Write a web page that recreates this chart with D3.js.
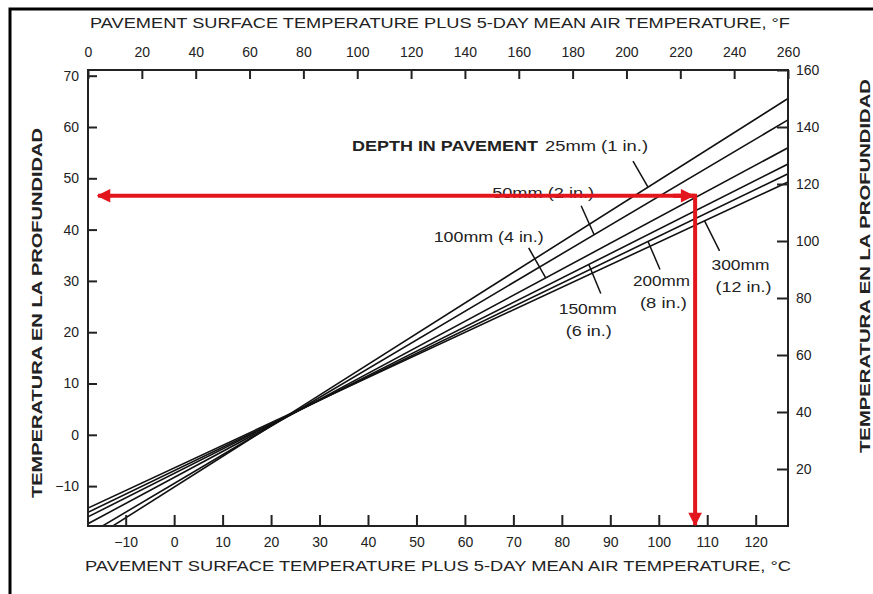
<!DOCTYPE html>
<html>
<head>
<meta charset="utf-8">
<script src="https://cdn.jsdelivr.net/npm/d3@7"></script>
<style>
  body { margin: 0; background: #fff; }
  svg { display: block; }
  text { font-family: "Liberation Sans Narrow", "Liberation Sans", Arial, sans-serif; fill: #222; }
  .tick line { stroke: #222; stroke-width: 2; }
</style>
</head>
<body>
<div id="chart"></div>
<script>
// chart data (temperatures in degrees F)
const depths = ["25mm (1 in.)", "50mm (2 in.)", "100mm (4 in.)", "150mm (6 in.)", "200mm (8 in.)", "300mm (12 in.)"];
const tempAtZeroF = [-5.5, -3, 0.8, 3.2, 4.8, 6.3];        // depth temp at x = 0 F
const tempAt260F = [150, 142.5, 132.7, 127, 123.6, 120.7]; // depth temp at x = 260 F
const pointerAtF = [208, 188, 170, 186, 208, 229];         // where each label's pointer touches its line

const topTicksF = d3.range(0, 261, 20);
const bottomTicksC = d3.range(-10, 121, 10);
const leftTicksC = d3.range(-10, 71, 10);
const rightTicksF = d3.range(20, 161, 20);

// worked example drawn in red (degrees C)
const exampleSurfaceC = 107.5;
const exampleDepthC = 46.6;

const titleF = "PAVEMENT SURFACE TEMPERATURE PLUS 5-DAY MEAN AIR TEMPERATURE, \u00B0F";
const titleC = "PAVEMENT SURFACE TEMPERATURE PLUS 5-DAY MEAN AIR TEMPERATURE, \u00B0C";
const titleY = "TEMPERATURA EN LA PROFUNDIDAD";

// frame of the plot
const margin = { left: 88, right: 85, top: 70, bottom: 68 };
const W = 873, H = 594;

const svg = d3.select("#chart").append("svg")
  .attr("width", W)
  .attr("height", H);

const toC = f => (f - 32) / 1.8;

// F scales, and C scales over the same pixels
const xF = d3.scaleLinear().domain([0, 260]).range([margin.left, W - margin.right]);
const yF = d3.scaleLinear().domain([0, 160]).range([H - margin.bottom, margin.top]);
const xC = d3.scaleLinear().domain([toC(0), toC(260)]).range(xF.range());
const yC = d3.scaleLinear().domain([toC(0), toC(160)]).range(yF.range());

// outer border of the scanned figure
svg.append("path")
  .attr("d", "M10," + H + "V9H" + W)
  .attr("fill", "none")
  .attr("stroke", "#000")
  .attr("stroke-width", 3);

// clip for the depth lines
svg.append("clipPath").attr("id", "plot-clip")
  .append("rect")
  .attr("x", xF(0)).attr("y", yF(160))
  .attr("width", xF(260) - xF(0))
  .attr("height", yF(0) - yF(160));

// depth lines
const lineGen = d3.line().x(d => xF(d[0])).y(d => yF(d[1]));
const lines = depths.map((name, i) => [[0, tempAtZeroF[i]], [260, tempAt260F[i]]]);
svg.append("g")
  .attr("clip-path", "url(#plot-clip)")
  .selectAll("path")
  .data(lines)
  .enter()
  .append("path")
    .attr("d", lineGen)
    .attr("fill", "none")
    .attr("stroke", "#111")
    .attr("stroke-width", 1.6);

// frame
svg.append("rect")
  .attr("x", xF(0)).attr("y", yF(160))
  .attr("width", xF(260) - xF(0))
  .attr("height", yF(0) - yF(160))
  .attr("fill", "none")
  .attr("stroke", "#222")
  .attr("stroke-width", 2);

// axes, ticks drawn inward
const topAxis = svg.append("g")
  .attr("transform", "translate(0," + yF(160) + ")")
  .call(d3.axisTop(xF).tickValues(topTicksF).tickSize(-9).tickPadding(13));
const bottomAxis = svg.append("g")
  .attr("transform", "translate(0," + yF(0) + ")")
  .call(d3.axisBottom(xC).tickValues(bottomTicksC).tickSize(-11).tickPadding(11));
const leftAxis = svg.append("g")
  .attr("transform", "translate(" + xF(0) + ",0)")
  .call(d3.axisLeft(yC).tickValues(leftTicksC).tickSize(-9).tickPadding(9));
const rightAxis = svg.append("g")
  .attr("transform", "translate(" + xF(260) + ",0)")
  .call(d3.axisRight(yF).tickValues(rightTicksF).tickSize(-11).tickPadding(8));

[topAxis, bottomAxis, leftAxis, rightAxis].forEach(function(a) {
  a.select(".domain").remove();
  a.selectAll("text")
    .attr("font-size", "14px")
    .attr("fill", "#222")
    .style("font-family", "'Liberation Sans Narrow', 'Liberation Sans', Arial, sans-serif");
});

// axis titles
svg.append("text")
  .attr("x", (xF(0) + xF(260)) / 2 + 2)
  .attr("y", 28)
  .attr("text-anchor", "middle")
  .attr("font-size", "15px")
  .attr("textLength", 700)
  .attr("lengthAdjust", "spacingAndGlyphs")
  .text(titleF);

svg.append("text")
  .attr("x", (xF(0) + xF(260)) / 2)
  .attr("y", 571)
  .attr("text-anchor", "middle")
  .attr("font-size", "15px")
  .attr("textLength", 706)
  .attr("lengthAdjust", "spacingAndGlyphs")
  .text(titleC);

svg.append("text")
  .attr("transform", "translate(42,313) rotate(-90)")
  .attr("text-anchor", "middle")
  .attr("font-size", "15px")
  .attr("font-weight", "bold")
  .attr("textLength", 370)
  .attr("lengthAdjust", "spacingAndGlyphs")
  .style("font-family", "'Liberation Sans', Arial, sans-serif")
  .text(titleY);

svg.append("text")
  .attr("transform", "translate(870,266) rotate(-90)")
  .attr("text-anchor", "middle")
  .attr("font-size", "15px")
  .attr("font-weight", "bold")
  .attr("textLength", 374)
  .attr("lengthAdjust", "spacingAndGlyphs")
  .style("font-family", "'Liberation Sans', Arial, sans-serif")
  .text(titleY);

// labels with pointers; offsets in pixels from the touch point
const pointerOffsets = [[-15, -26], [-13, -29], [-17, -30], [12, 29], [12, 28], [15, 30]];
// each row: [text, x offset, width, bold]
const labelSpecs = [
  { dx: -296, dy: -36, rows: [[["DEPTH IN PAVEMENT", 0, 186, true], ["25mm (1 in.)", 193, 103, false]]] },
  { dx: -102, dy: -37, rows: [[["50mm (2 in.)", 0, 102, false]]] },
  { dx: -112, dy: -36, rows: [[["100mm (4 in.)", 0, 110, false]]] },
  { dx: -30, dy: 50, rows: [[["150mm", 0, 58, false]], [["(6 in.)", 7, 46, false]]] },
  { dx: -15, dy: 45, rows: [[["200mm", 0, 57, false]], [["(8 in.)", 7, 47, false]]] },
  { dx: 7, dy: 49, rows: [[["300mm", 0, 58, false]], [["(12 in.)", 4, 56, false]]] }
];

depths.forEach(function(name, i) {
  const f = pointerAtF[i];
  const t = tempAtZeroF[i] + (tempAt260F[i] - tempAtZeroF[i]) * f / 260;
  const px = xF(f), py = yF(t);
  const off = pointerOffsets[i];

  svg.append("line")
    .attr("x1", px).attr("y1", py)
    .attr("x2", px + off[0]).attr("y2", py + off[1])
    .attr("stroke", "#111")
    .attr("stroke-width", 1.5);

  const spec = labelSpecs[i];
  spec.rows.forEach(function(row, r) {
    row.forEach(function(seg) {
      svg.append("text")
        .attr("x", px + spec.dx + seg[1])
        .attr("y", py + spec.dy + r * 22)
        .attr("font-size", "14px")
        .attr("font-weight", seg[3] ? "bold" : "normal")
        .attr("textLength", seg[2])
        .attr("lengthAdjust", "spacingAndGlyphs")
        .attr("fill", "#222")
        .text(seg[0]);
    });
  });
});

// red worked example with arrows
const red = "#e3161e";
const defs = svg.append("defs");
defs.append("marker")
  .attr("id", "arrow")
  .attr("viewBox", "0 0 10 10")
  .attr("refX", 9).attr("refY", 5)
  .attr("markerWidth", 4).attr("markerHeight", 3.4)
  .attr("markerUnits", "strokeWidth")
  .attr("orient", "auto")
  .append("path")
    .attr("d", "M0,0L10,5L0,10z")
    .attr("fill", red);

const cx = xC(exampleSurfaceC), cy = yC(exampleDepthC);

svg.append("line")
  .attr("x1", cx).attr("y1", cy)
  .attr("x2", xF(0) + 10).attr("y2", cy)
  .attr("stroke", red).attr("stroke-width", 4)
  .attr("marker-end", "url(#arrow)");

svg.append("line")
  .attr("x1", cx - 22).attr("y1", cy)
  .attr("x2", cx - 2).attr("y2", cy)
  .attr("stroke", red).attr("stroke-width", 4)
  .attr("marker-end", "url(#arrow)");

svg.append("line")
  .attr("x1", cx).attr("y1", cy - 2)
  .attr("x2", cx).attr("y2", yF(0) - 1)
  .attr("stroke", red).attr("stroke-width", 4)
  .attr("marker-end", "url(#arrow)");
</script>
</body>
</html>
